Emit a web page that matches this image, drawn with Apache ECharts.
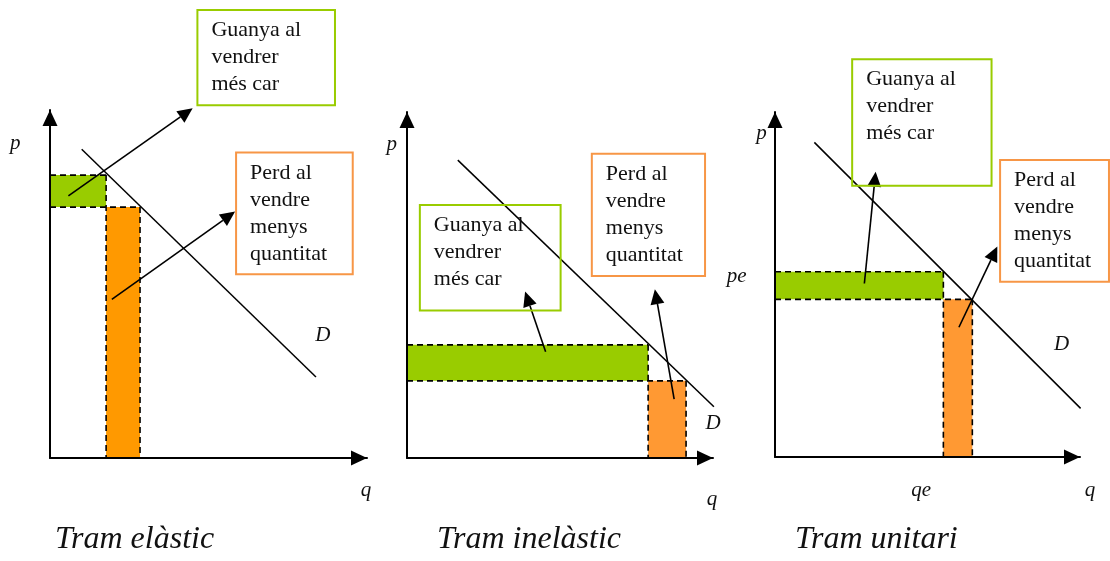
<!DOCTYPE html>
<html><head><meta charset="utf-8">
<script src="https://cdn.jsdelivr.net/npm/echarts@6/dist/echarts.min.js"></script>
<style>html,body{margin:0;padding:0;background:#fff}#c{width:1110px;height:561px}</style>
</head><body><div id="c"></div>
<script>
// ---------- data (axis units 0..10 for q and p in every panel) ----------
const titles = ['Tram elàstic', 'Tram inelàstic', 'Tram unitari'];
const gainText = 'Guanya al\nvendrer\nmés car';
const lossText = 'Perd al\nvendre\nmenys\nquantitat';

// Panel 1: Tram elàstic
const demand1 = [[1.00, 8.87], [8.39, 2.33]];
const qty1 = [1.77, 2.84];          // q before / after price rise
const price1 = [8.13, 7.21];        // high price / low price
const gainArrow1 = [0.58, 7.53, 4.50, 10.05];
const lossArrow1 = [1.95, 4.56, 5.84, 7.08];
const gainBox1 = [4.65, 12.87, 8.99, 10.14];
const lossBox1 = [5.87, 8.78, 9.55, 5.28];
const labels1 = [['p', -1.10, 9.05], ['D', 8.61, 3.53], ['q', 9.97, -0.92]];

// Panel 2: Tram inelàstic
const demand2 = [[1.66, 8.61], [10.03, 1.48]];
const qty2 = [7.88, 9.12];
const price2 = [3.27, 2.23];
const gainArrow2 = [4.53, 3.07, 3.86, 4.81];
const lossArrow2 = [8.73, 1.70, 8.10, 4.88];
const gainBox2 = [0.42, 7.31, 5.02, 4.26];
const lossBox2 = [6.04, 8.79, 9.74, 5.26];
const labels2 = [['p', -0.50, 9.05], ['D', 10.00, 1.01], ['q', 9.97, -1.21]];

// Panel 3: Tram unitari
const demand3 = [[1.29, 9.12], [10.02, 1.41]];
const qty3 = [5.52, 6.47];
const price3 = [5.37, 4.57];
const gainArrow3 = [2.93, 5.03, 3.30, 8.27];
const lossArrow3 = [6.03, 3.76, 7.29, 6.10];
const gainBox3 = [2.53, 11.53, 7.10, 7.86];
const lossBox3 = [7.38, 8.61, 10.95, 5.08];
const labels3 = [['p', -0.44, 9.39], ['pe', -1.26, 5.23], ['D', 9.40, 3.25], ['qe', 4.79, -0.96], ['q', 10.33, -0.96]];

// ---------- styles / layout ----------
const GREEN = '#99CC00';
const ORANGES = ['#FF9900', '#FF9933', '#FF9933'];
const BOX_GREEN = '#99CC00';
const BOX_ORANGE = '#F79646';
const SERIF = '"Liberation Serif", "DejaVu Serif", serif';

const grids = [
  {left: 50, top: 110, width: 317, height: 348},
  {left: 407, top: 112, width: 306, height: 346},
  {left: 775, top: 112, width: 305, height: 345}
];
const titlePos = [55, 437, 795];

const panels = [
  {demand: demand1, qty: qty1, price: price1, arrows: [gainArrow1, lossArrow1], boxes: [gainBox1, lossBox1], labels: labels1},
  {demand: demand2, qty: qty2, price: price2, arrows: [gainArrow2, lossArrow2], boxes: [gainBox2, lossBox2], labels: labels2},
  {demand: demand3, qty: qty3, price: price3, arrows: [gainArrow3, lossArrow3], boxes: [gainBox3, lossBox3], labels: labels3}
];

function axisCommon() {
  return {
    type: 'value', min: 0, max: 10, z: 10,
    axisLine: {show: true, onZero: false, lineStyle: {color: '#000', width: 2},
      symbol: ['none', 'triangle'], symbolSize: [15, 16], symbolOffset: [0, -8]},
    axisTick: {show: false}, axisLabel: {show: false}, splitLine: {show: false}
  };
}

const xAxes = [], yAxes = [], series = [];
panels.forEach((pn, i) => {
  xAxes.push(Object.assign(axisCommon(), {gridIndex: i}));
  yAxes.push(Object.assign(axisCommon(), {gridIndex: i}));
  const q1 = pn.qty[0], q2 = pn.qty[1], pH = pn.price[0], pL = pn.price[1];
  const base = {xAxisIndex: i, yAxisIndex: i, clip: false, silent: true, animation: false};

  // filled areas: gain (green) and loss (orange)
  series.push(Object.assign({}, base, {
    type: 'custom', z: 1,
    encode: {x: [0, 2], y: [1, 3]},
    data: [[0, pL, q1, pH], [q1, 0, q2, pL]],
    renderItem(params, api) {
      const a = api.coord([api.value(0), api.value(1)]);
      const b = api.coord([api.value(2), api.value(3)]);
      return {type: 'rect',
        shape: {x: Math.min(a[0], b[0]), y: Math.min(a[1], b[1]), width: Math.abs(b[0] - a[0]), height: Math.abs(b[1] - a[1])},
        style: {fill: params.dataIndex === 0 ? GREEN : ORANGES[i]}};
    }
  }));

  // dashed guide lines
  series.push(Object.assign({}, base, {
    type: 'custom', z: 3,
    encode: {x: [0, 2], y: [1, 3]},
    data: [[0, pH, q1, pH], [0, pL, q2, pL], [q1, pH, q1, 0], [q2, pL, q2, 0]],
    renderItem(params, api) {
      const a = api.coord([api.value(0), api.value(1)]);
      const b = api.coord([api.value(2), api.value(3)]);
      return {type: 'line', shape: {x1: a[0], y1: a[1], x2: b[0], y2: b[1]},
        style: {stroke: '#000', lineWidth: 1.6, lineDash: [6, 4]}};
    }
  }));

  // demand curve
  series.push(Object.assign({}, base, {
    type: 'line', z: 4, data: pn.demand, showSymbol: false, symbol: 'none',
    lineStyle: {color: '#000', width: 1.5}
  }));

  // arrows
  series.push(Object.assign({}, base, {
    type: 'custom', z: 5,
    encode: {x: [0, 2], y: [1, 3]},
    data: pn.arrows,
    renderItem(params, api) {
      const a = api.coord([api.value(0), api.value(1)]);
      const b = api.coord([api.value(2), api.value(3)]);
      const dx = b[0] - a[0], dy = b[1] - a[1];
      const L = Math.sqrt(dx * dx + dy * dy);
      const ux = dx / L, uy = dy / L;
      const hl = 15, hw = 7;
      const bx = b[0] - ux * hl, by = b[1] - uy * hl;
      return {type: 'group', children: [
        {type: 'line', shape: {x1: a[0], y1: a[1], x2: bx, y2: by}, style: {stroke: '#000', lineWidth: 1.6}},
        {type: 'polygon', shape: {points: [[b[0], b[1]], [bx - uy * hw, by + ux * hw], [bx + uy * hw, by - ux * hw]]}, style: {fill: '#000'}}
      ]};
    }
  }));

  // annotation boxes
  series.push(Object.assign({}, base, {
    type: 'custom', z: 6,
    encode: {x: [0, 2], y: [1, 3]},
    data: pn.boxes,
    renderItem(params, api) {
      const a = api.coord([api.value(0), api.value(1)]);
      const b = api.coord([api.value(2), api.value(3)]);
      const gain = params.dataIndex === 0;
      const x = Math.min(a[0], b[0]), y = Math.min(a[1], b[1]);
      return {type: 'group', children: [
        {type: 'rect', shape: {x: x, y: y, width: Math.abs(b[0] - a[0]), height: Math.abs(b[1] - a[1])},
          style: {fill: 'none', stroke: gain ? BOX_GREEN : BOX_ORANGE, lineWidth: 2}},
        {type: 'text', x: x + 14, y: y + 7,
          style: {text: gain ? gainText : lossText, fill: '#111', font: '22px ' + SERIF, lineHeight: 27,
            align: 'left', verticalAlign: 'top'}}
      ]};
    }
  }));

  // axis / curve labels
  series.push(Object.assign({}, base, {
    type: 'custom', z: 6,
    encode: {x: 1, y: 2},
    data: pn.labels,
    renderItem(params, api) {
      const c = api.coord([api.value(1), api.value(2)]);
      return {type: 'text', x: c[0], y: c[1],
        style: {text: pn.labels[params.dataIndex][0], fill: '#111', font: 'italic 21px ' + SERIF,
          align: 'center', verticalAlign: 'middle'}};
    }
  }));
});

const chart = echarts.init(document.getElementById('c'), null, {renderer: 'canvas'});
chart.setOption({
  animation: false,
  backgroundColor: '#fff',
  title: titles.map((t, i) => ({
    text: t, left: titlePos[i], top: 524, padding: 0,
    textStyle: {fontFamily: SERIF, fontStyle: 'italic', fontWeight: 'normal', fontSize: 32, color: '#111'}
  })),
  grid: grids,
  xAxis: xAxes,
  yAxis: yAxes,
  series: series
});
</script>
</body></html>
